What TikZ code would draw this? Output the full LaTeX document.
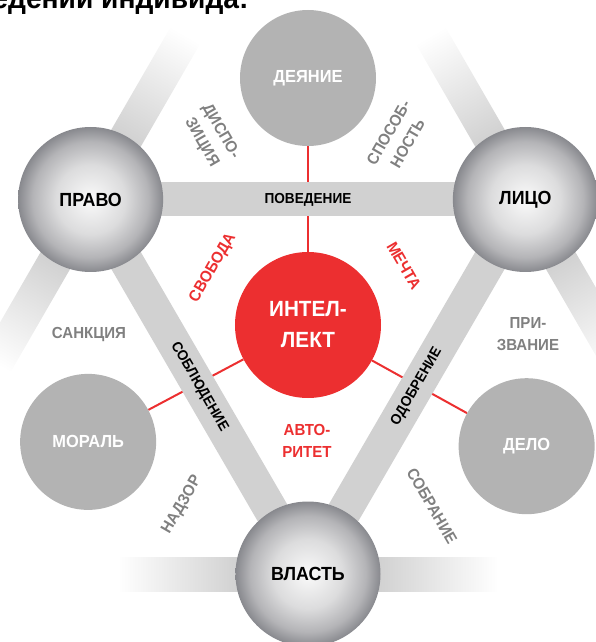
\documentclass[tikz,border=0pt]{standalone}
\usepackage{fontspec}
\setmainfont{Liberation Sans}[FakeStretch=0.94]
\usepackage{tikz}
\definecolor{bandgray}{HTML}{D1D1D1}
\definecolor{discgray}{HTML}{B3B3B3}
\definecolor{labelgray}{HTML}{808080}
\definecolor{corered}{HTML}{EC2F30}
\definecolor{ballcore}{HTML}{FAFAFA}
\definecolor{balllight}{HTML}{DCDCDD}
\definecolor{ballmid}{HTML}{B4B4B7}
\definecolor{balledge}{HTML}{88898E}
\pgfdeclareradialshading{ballshade}{\pgfpoint{0bp}{0bp}}{color(0bp)=(ballcore); color(12bp)=(balllight); color(20bp)=(ballmid); color(25bp)=(balledge); color(50bp)=(balledge)}
\pgfdeclarelayer{wires}
\pgfdeclarelayer{strips}
\pgfsetlayers{wires,strips,main}

\begin{document}
\begin{tikzpicture}[x=1pt,y=1pt,
  ball/.style={circle,minimum size=145pt,inner sep=0pt,shade,shading=ballshade,font=\bfseries\fontsize{19}{19}\selectfont},
  disc/.style={circle,minimum size=136pt,inner sep=0pt,fill=discgray,text=white,font=\bfseries\fontsize{17.5}{17.5}\selectfont},
  core/.style={circle,minimum size=146pt,inner sep=0pt,fill=corered,text=white,align=center,font=\bfseries\fontsize{22}{31}\selectfont},
  strip/.style={draw=bandgray,line width=34pt},
  striplbl/.style={font=\bfseries\fontsize{14.5}{14.5}\selectfont},
  wire/.style={draw=corered,line width=2pt},
  graylbl/.style={text=labelgray,align=center,font=\bfseries\fontsize{16}{22}\selectfont},
  redlbl/.style={text=corered,align=center,font=\bfseries\fontsize{16}{22}\selectfont}]
\useasboundingbox (-308,-317) rectangle (288,325);

\node[anchor=base east,font=\bfseries\fontsize{30}{30}\selectfont] (title) at (-56,316) {поведении индивида:};

% spheres, discs and the core
\node[ball] (pravo) at (150:251) {ПРАВО};
\node[ball] (litso) at (30:251) {ЛИЦО};
\node[ball] (vlast) at (270:249) {ВЛАСТЬ};
\node[disc] (deyanie) at (90:247) {ДЕЯНИЕ};
\node[disc] (moral) at (208:249) {МОРАЛЬ};
\node[disc] (delo) at (331:250) {ДЕЛО};
\node[core] (intellekt) at (0,0) {ИНТЕЛ-\\ЛЕКТ};

% labels between the circles
\node[graylbl,rotate=-60] (dispo) at (-97,188) {ДИСПО-\\ЗИЦИЯ};
\node[graylbl,rotate=60] (sposob) at (90,187) {СПОСОБ-\\НОСТЬ};
\node[graylbl] (sankciya) at (-219,-10) {САНКЦИЯ};
\node[graylbl] (prizvanie) at (220,-9) {ПРИ-\\ЗВАНИЕ};
\node[graylbl,rotate=60] (nadzor) at (-126,-180) {НАДЗОР};
\node[graylbl,rotate=-60] (sobranie) at (124,-181) {СОБРАНИЕ};
\node[redlbl,rotate=60] (svoboda) at (-95,57) {СВОБОДА};
\node[redlbl,rotate=-60] (mechta) at (96,59) {МЕЧТА};
\node[redlbl] (avtoritet) at (-1,-116) {АВТО-\\РИТЕТ};

\begin{pgfonlayer}{wires}
\draw[wire] (intellekt) -- (deyanie);
\draw[wire] (intellekt) -- (moral);
\draw[wire] (intellekt) -- (delo);
\end{pgfonlayer}

\begin{pgfonlayer}{strips}
% fading strips
\foreach \spot/\ang in {pravo/60,pravo/240,litso/120,litso/300,vlast/0,vlast/180}
  \shade[transform canvas={shift={(\spot.center)},rotate=\ang},left color=bandgray,right color=white] (70,-17) rectangle (190,17);
\draw[strip] (pravo.center) -- (litso.center) node[striplbl,midway] (povedenie) {ПОВЕДЕНИЕ};
\draw[strip] (pravo.center) -- (vlast.center) node[striplbl,midway,sloped] (soblyudenie) {СОБЛЮДЕНИЕ};
\draw[strip] (vlast.center) -- (litso.center) node[striplbl,midway,sloped] (odobrenie) {ОДОБРЕНИЕ};
\end{pgfonlayer}
\end{tikzpicture}
\end{document}
